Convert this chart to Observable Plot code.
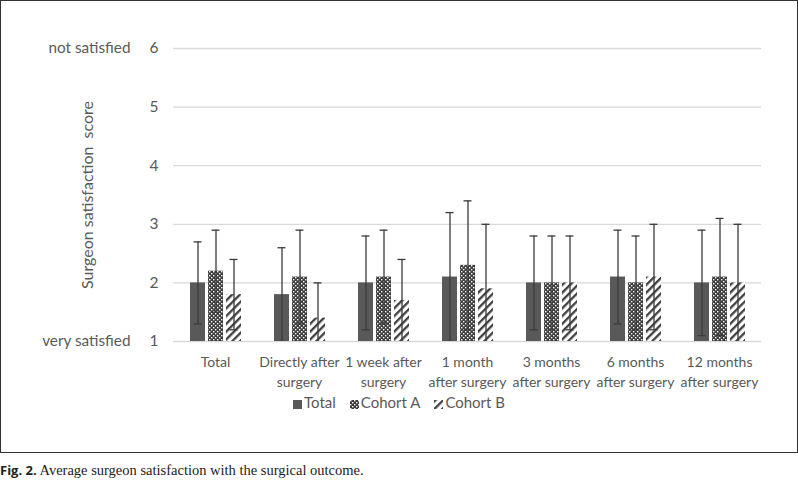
<!DOCTYPE html>
<html>
<head>
<meta charset="utf-8">
<script src="https://cdn.jsdelivr.net/npm/d3@7"></script>
<script src="https://cdn.jsdelivr.net/npm/@observablehq/plot@0.6"></script>
<style>
  html, body { margin: 0; padding: 0; background: #fff; }
  #page { position: relative; width: 798px; height: 487px; }
  #frame { position: absolute; left: 0; top: 0; width: 796px; height: 451px; border: 1px solid #333; }
  #chart { position: absolute; left: 0; top: 0; }
  #legend { position: absolute; left: 0; top: 392px; width: 796px; text-align: center;
            font-family: Lato, "Open Sans", sans-serif; font-size: 15px; color: #595959; }
  #legend span.item { display: inline-block; margin: 0 7px; }
  #legend svg { vertical-align: -1px; margin-right: 2px; }
  #caption { position: absolute; left: 0; top: 461px; font-family: "Liberation Serif", "DejaVu Serif", serif;
             font-size: 14.5px; color: #222; }
  #caption b { font-family: "Open Sans", "Liberation Sans", sans-serif; font-size: 13px; font-weight: 700; }
</style>
</head>
<body>
<svg width="0" height="0" style="position:absolute">
  <defs>
    <pattern id="patA" patternUnits="userSpaceOnUse" width="4" height="4">
      <rect width="4" height="4" fill="#3c3c3c"></rect>
      <rect x="0" y="0" width="1.4" height="1.4" fill="#fff"></rect>
      <rect x="2" y="2" width="1.4" height="1.4" fill="#fff"></rect>
    </pattern>
    <pattern id="patB" patternUnits="userSpaceOnUse" width="5.5" height="5.5" patternTransform="rotate(45)">
      <rect width="5.5" height="5.5" fill="#fff"></rect>
      <rect x="0" y="0" width="2.3" height="5.5" fill="#404040"></rect>
    </pattern>
  </defs>
</svg>
<div id="page">
  <div id="frame">
    <div id="chart"></div>
    <div id="legend"></div>
  </div>
  <div id="caption"><b>Fig. 2.</b> Average surgeon satisfaction with the surgical outcome.</div>
</div>
<script>
const categories = ["Total", "Directly after\nsurgery", "1 week after\nsurgery", "1 month\nafter surgery",
  "3 months\nafter surgery", "6 months\nafter surgery", "12 months\nafter surgery"];
const series = ["Total", "Cohort A", "Cohort B"];
const totalMean   = [2.0, 1.8, 2.0, 2.1, 2.0, 2.1, 2.0];
const cohortAMean = [2.2, 2.1, 2.1, 2.3, 2.0, 2.0, 2.1];
const cohortBMean = [1.8, 1.4, 1.7, 1.9, 2.0, 2.1, 2.0];
const totalSD     = [0.7, 0.8, 0.8, 1.1, 0.8, 0.8, 0.9];
const cohortASD   = [0.7, 0.8, 0.8, 1.1, 0.8, 0.8, 1.0];
const cohortBSD   = [0.6, 0.6, 0.7, 1.1, 0.8, 0.9, 1.0];
const yTicks = [1, 2, 3, 4, 5, 6];
const endLabels = {1: "very satisfied", 6: "not satisfied"};
const yLabel = "Surgeon satisfaction  score";

const fills = {"Total": "#595959", "Cohort A": "url(#patA)", "Cohort B": "url(#patB)"};
const means = [totalMean, cohortAMean, cohortBMean];
const sds = [totalSD, cohortASD, cohortBSD];

const rows = [];
categories.forEach((c, i) => series.forEach((s, j) => {
  rows.push({cat: c, series: s, mean: means[j][i], lo: means[j][i] - sds[j][i], hi: means[j][i] + sds[j][i]});
}));

const errColor = "#3a3a3a";
const chart = Plot.plot({
  width: 796, height: 400,
  marginLeft: 170, marginRight: 34, marginTop: 47, marginBottom: 60,
  style: {fontFamily: "Lato, 'Open Sans', sans-serif", fontSize: "14px", color: "#595959", background: "transparent"},
  fx: {domain: categories, padding: 0, axis: null},
  x: {domain: series, paddingInner: 0.19, paddingOuter: 0.88, axis: null},
  y: {domain: [1, 6], axis: null},
  marks: [
    Plot.gridY(yTicks, {stroke: "#d9d9d9", strokeOpacity: 1, strokeWidth: 1.3}),
    Plot.axisY(yTicks, {tickSize: 0, tickPadding: 15, tickFormat: d => String(d), fontSize: 15.5,
      label: yLabel, labelAnchor: "center", labelOffset: 92, labelArrow: "none", fill: "#595959"}),
    Plot.axisY([1, 6], {tickSize: 0, tickPadding: 43, label: null, tickFormat: d => endLabels[d], fontSize: 15.3, fill: "#595959"}),
    Plot.axisFx({anchor: "bottom", tickSize: 0, tickPadding: 11, label: null, lineHeight: 1.43, fill: "#595959"}),
    ...series.map(s => Plot.barY(rows.filter(r => r.series === s), {fx: "cat", x: "series", y1: () => 1, y2: "mean", fill: fills[s]})),
    Plot.ruleX(rows, {fx: "cat", x: "series", y1: "lo", y2: "hi", stroke: errColor, strokeWidth: 1.3, clip: true}),
    Plot.tickY(rows, {fx: "cat", x: "series", y: "hi", stroke: errColor, strokeWidth: 1.3, insetLeft: 3.5, insetRight: 3.5, clip: true}),
    Plot.tickY(rows, {fx: "cat", x: "series", y: "lo", stroke: errColor, strokeWidth: 1.3, insetLeft: 3.5, insetRight: 3.5, clip: true})
  ]
});
document.getElementById("chart").appendChild(chart);
// y-axis title font size
chart.querySelectorAll("g[aria-label='y-axis label'] text").forEach(t => t.setAttribute("font-size", "16"));

const legend = document.getElementById("legend");
series.forEach(s => {
  const item = document.createElement("span");
  item.className = "item";
  item.innerHTML = `<svg width="9" height="9"><rect width="9" height="9" fill="${fills[s]}"></rect></svg>${s}`;
  legend.appendChild(item);
});
</script>
</body>
</html>
